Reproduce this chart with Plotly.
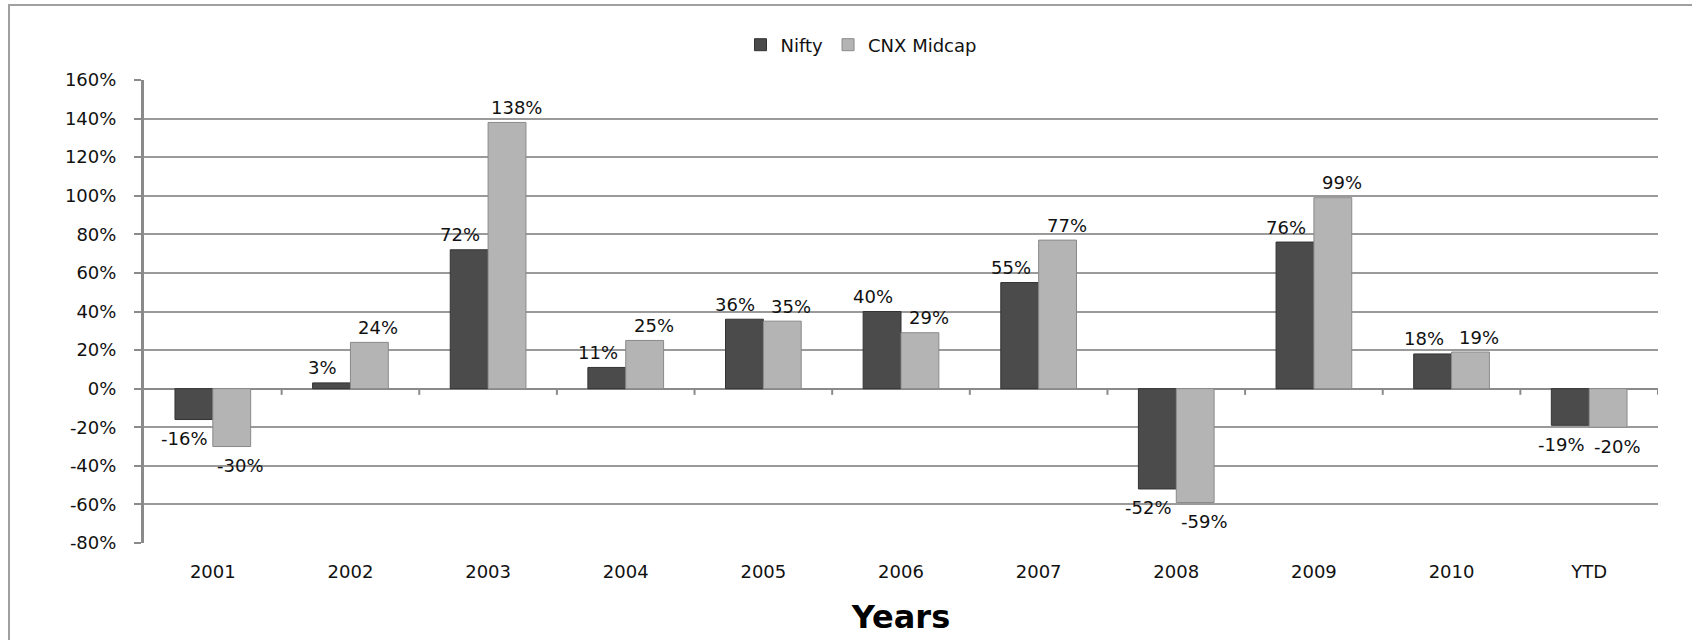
import plotly.graph_objects as go

categories = ["2001", "2002", "2003", "2004", "2005", "2006", "2007", "2008", "2009", "2010", "YTD"]
nifty = [-16, 3, 72, 11, 36, 40, 55, -52, 76, 18, -19]
cnx_midcap = [-30, 24, 138, 25, 35, 29, 77, -59, 99, 19, -20]
y_ticks = list(range(-80, 161, 20))

FONT = "DejaVu Sans"
GRID = "#9a9a9a"
TXT = "#111111"

# layout constants (pixels)
W, H = 1692, 640
ML, MR, MT, MB = 144, 34, 80, 97
BARGAP = 0.45
band = (W - ML - MR) / len(categories)
bar_w = band * (1 - BARGAP) / 2

fig = go.Figure()
fig.add_trace(go.Bar(
    name="Nifty", x=categories, y=nifty,
    marker=dict(color="#4b4b4b", line=dict(color="#333333", width=1)),
    hoverinfo="x+y",
))
fig.add_trace(go.Bar(
    name="CNX Midcap", x=categories, y=cnx_midcap,
    marker=dict(color="#b4b4b4", line=dict(color="#8a8a8a", width=1)),
    hoverinfo="x+y",
))

annotations = []
for series, side in ((nifty, -1), (cnx_midcap, 1)):
    for idx, v in enumerate(series):
        annotations.append(dict(
            x=idx, y=v, xref="x", yref="y", text=f"{v}%", showarrow=False,
            xanchor="center", yanchor="middle",
            xshift=side * (bar_w / 2 + 9), yshift=15 if v >= 0 else -19,
            font=dict(family=FONT, size=18, color=TXT),
        ))

# small tick marks under the zero line at category boundaries
shapes = []
for i in range(len(categories)):
    shapes.append(dict(type="line", xref="x", yref="y", x0=i + 0.5, x1=i + 0.5,
                       y0=0, y1=-3.2, line=dict(color="#8a8a8a", width=2), layer="above"))
# outer frame (top and left edge)
plot_w, plot_h = W - ML - MR, H - MT - MB
shapes.append(dict(type="rect", xref="paper", yref="paper",
                   x0=(9 - ML) / plot_w, x1=1.1, y0=-0.3, y1=(H - MB - 5) / plot_h,
                   line=dict(color="#a0a0a0", width=2), fillcolor="rgba(0,0,0,0)", layer="below"))

fig.update_layout(
    width=W, height=H,
    margin=dict(l=ML, r=MR, t=MT, b=MB),
    paper_bgcolor="white", plot_bgcolor="white",
    barmode="group", bargap=BARGAP, bargroupgap=0,
    font=dict(family=FONT, size=18, color=TXT),
    showlegend=True,
    legend=dict(orientation="h", x=(861 - ML) / plot_w, xanchor="center",
                y=(H - MB - 45) / plot_h, yanchor="middle",
                font=dict(family=FONT, size=18, color=TXT),
                traceorder="normal"),
    shapes=shapes,
    annotations=annotations,
    xaxis=dict(
        type="category", showgrid=False, showline=False, ticks="",
        ticklabelstandoff=16, tickfont=dict(family=FONT, size=18, color=TXT),
        title=dict(text="<b>Years</b>", font=dict(family=FONT, size=32, color="#000000"), standoff=24),
        range=[-0.5, len(categories) - 0.5],
    ),
    yaxis=dict(
        range=[-80, 160], tickvals=y_ticks, ticktext=[f"{v}%" for v in y_ticks],
        showgrid=True, gridcolor=GRID, gridwidth=2,
        zeroline=True, zerolinecolor="#8a8a8a", zerolinewidth=2,
        showline=True, linecolor="#8a8a8a", linewidth=3,
        ticks="outside", ticklen=7, tickcolor="#8a8a8a", tickwidth=2,
        ticklabelstandoff=14, tickfont=dict(family=FONT, size=18, color=TXT),
    ),
)

fig.write_html("out.html")
